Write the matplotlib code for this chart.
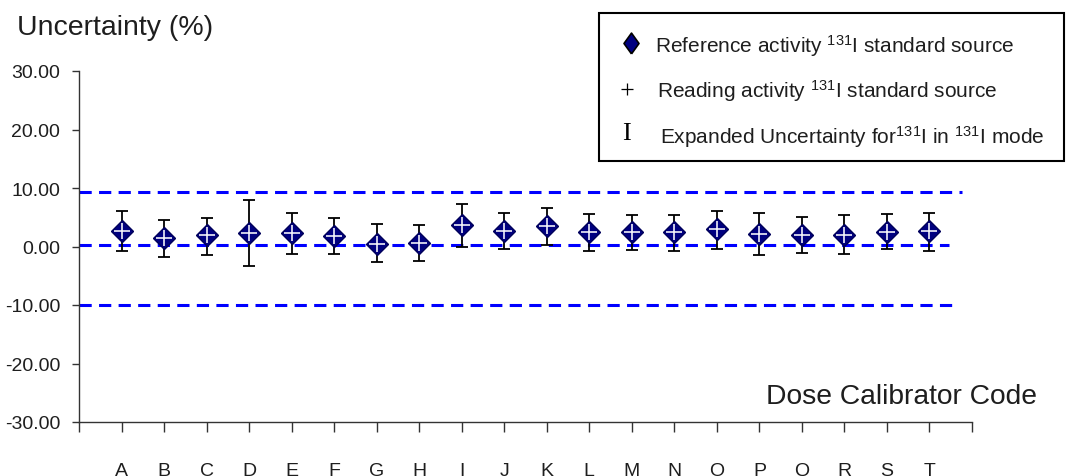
import numpy as np
import matplotlib
matplotlib.use("Agg")
import matplotlib.pyplot as plt
from matplotlib.lines import Line2D
from matplotlib.patches import Rectangle

plt.rcParams["font.family"] = ["Liberation Sans", "DejaVu Sans"]
plt.rcParams["mathtext.fontset"] = "custom"
plt.rcParams["mathtext.rm"] = "Liberation Sans"
plt.rcParams["mathtext.it"] = "Liberation Sans"

# dose calibrator codes and measured deviation (%) with expanded uncertainty
codes = ["A", "B", "C", "D", "E", "F", "G", "H", "I", "J",
         "K", "L", "M", "N", "O", "P", "Q", "R", "S", "T"]
deviation = [2.7, 1.4, 1.9, 2.3, 2.3, 1.8, 0.5, 0.6, 3.7, 2.7,
             3.5, 2.4, 2.4, 2.4, 3.0, 2.2, 2.0, 2.0, 2.5, 2.6]
uncert_up = [3.3, 3.1, 3.0, 5.6, 3.5, 3.0, 3.3, 3.0, 3.6, 3.1,
             3.1, 3.1, 3.0, 3.0, 3.0, 3.5, 3.1, 3.3, 3.0, 3.2]
uncert_lo = [3.4, 3.2, 3.3, 5.7, 3.6, 3.0, 3.2, 3.1, 3.7, 3.2,
             3.2, 3.1, 3.0, 3.1, 3.4, 3.6, 3.1, 3.3, 3.0, 3.4]

# reference lines: acceptance limits and the mean offset
limit_upper = 9.4
limit_mid = 0.3
limit_lower = -10.0

yticks = [30, 20, 10, 0, -10, -20, -30]
txt = "#1e1e1e"

fig = plt.figure(figsize=(10.66, 4.77), dpi=100)
ax = fig.add_axes([79 / 1066, 54 / 477, 893 / 1066, 351 / 477])

x = np.arange(1, len(codes) + 1)

for yv, xend in [(limit_upper, 20.77), (limit_mid, 20.45), (limit_lower, 20.7)]:
    ax.plot([0, xend], [yv, yv], color="#0000ff", lw=2.2,
            dashes=(4, 2.4), zorder=1, solid_capstyle="butt")

ax.errorbar(x, deviation, yerr=[uncert_lo, uncert_up], fmt="none",
            ecolor="black", elinewidth=1.3, capsize=4.3, capthick=1.3,
            zorder=2)
ax.plot(x, deviation, linestyle="none", marker="D", markersize=11,
        markerfacecolor="#000080", markeredgecolor="#00005a",
        markeredgewidth=1.0, zorder=3)
ax.plot(x, deviation, linestyle="none", marker="+", markersize=11.5,
        markeredgecolor="#f0f0f8", markeredgewidth=1.2, zorder=4)

ax.set_xlim(0, 21)
ax.set_ylim(-30, 30)
ax.set_xticks(np.arange(0, 22))
ax.set_xticklabels([""] + codes + [""])
ax.set_yticks(yticks)
ax.set_yticklabels([f"{v:.2f}" for v in yticks])

for s in ["top", "right"]:
    ax.spines[s].set_visible(False)
for s in ["left", "bottom"]:
    ax.spines[s].set_color("#333333")
    ax.spines[s].set_linewidth(1.0)

ax.tick_params(axis="y", direction="out", length=5, width=1.0,
               color="#333333", pad=8.5, labelsize=14, labelcolor=txt)
ax.tick_params(axis="x", direction="out", length=7, width=1.0,
               color="#333333", pad=22, labelsize=14, labelcolor=txt)

fig.text(17 / 1066, 1 - 28 / 477, "Uncertainty (%)", fontsize=20.5,
         color=txt, ha="left", va="center")
fig.text(1037 / 1066, 1 - 397 / 477, "Dose Calibrator Code", fontsize=20.3,
         color=txt, ha="right", va="center")

# legend box drawn by hand
fig.add_artist(Rectangle((599 / 1066, 1 - 162 / 477), 465 / 1066, 148 / 477,
                         transform=fig.transFigure, fill=False,
                         edgecolor="black", linewidth=1.5))

diamond = [(0, -1), (0.72, 0), (0, 1), (-0.72, 0), (0, -1)]
fig.add_artist(Line2D([631 / 1066], [1 - 44 / 477], transform=fig.transFigure,
                      marker=diamond, markersize=15, markerfacecolor="#000080",
                      markeredgecolor="black", markeredgewidth=1.2,
                      linestyle="none"))
fig.add_artist(Line2D([627 / 1066], [1 - 90 / 477], transform=fig.transFigure,
                      marker="+", markersize=8, markeredgecolor="black",
                      markeredgewidth=0.9, linestyle="none"))
fig.text(626 / 1066, 1 - 134 / 477, "I", fontsize=19, family="Liberation Serif",
         color="black", ha="center", va="center")

leg_size = 15
fig.text(655 / 1066, 1 - 46 / 477,
         "Reference activity $^{131}$I standard source",
         fontsize=leg_size, color=txt, ha="left", va="center")
fig.text(657 / 1066, 1 - 91 / 477,
         "Reading activity $^{131}$I standard source",
         fontsize=leg_size, color=txt, ha="left", va="center")
fig.text(660 / 1066, 1 - 137 / 477,
         "Expanded Uncertainty for$^{131}$I in $^{131}$I mode",
         fontsize=leg_size, color=txt, ha="left", va="center")

fig.savefig("out.png", dpi=100)
